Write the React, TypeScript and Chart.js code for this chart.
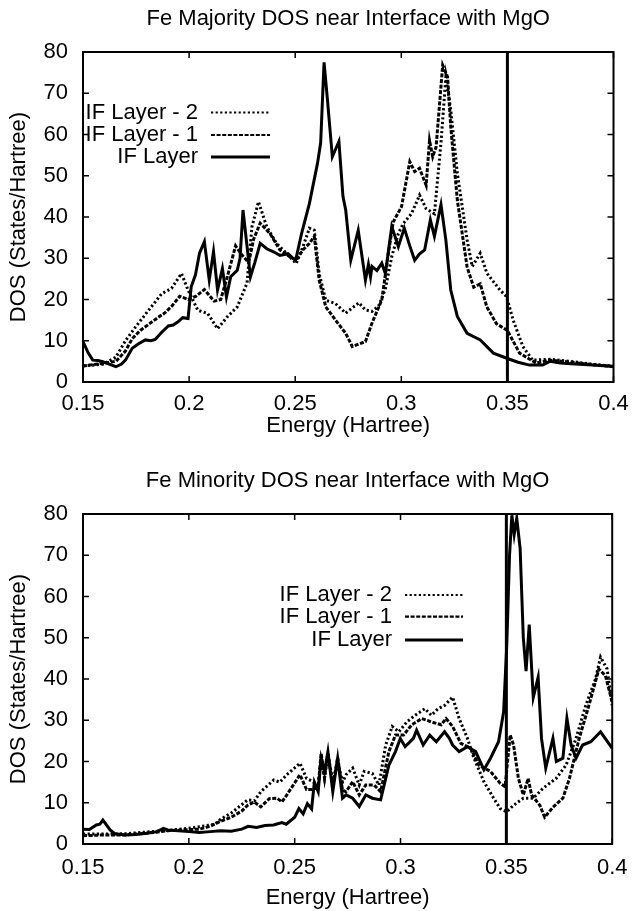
import React, { useEffect, useRef } from "react";
import { Chart, registerables } from "chart.js";

Chart.register(...registerables);

// ---------------- data ----------------
const xTickLabels = ["0.15", "0.2", "0.25", "0.3", "0.35", "0.4"];
const seriesLabels = ["IF Layer - 2", "IF Layer - 1", "IF Layer"];
const markerEnergy = 0.35;
const majorityTitle = "Fe Majority DOS near Interface with MgO";
const minorityTitle = "Fe Minority DOS near Interface with MgO";
const xAxisTitle = "Energy (Hartree)";
const yAxisTitle = "DOS (States/Hartree)";

// Majority: [energy, DOS]
const majorityIF: [number, number][] = [
  [0.150, 9.8], [0.1525, 7], [0.1546, 5.3], [0.157, 5.2], [0.1593, 4.9], [0.162, 4.4], [0.1655, 3.7],
  [0.168, 4.3], [0.170, 5.3], [0.1732, 8.2], [0.176, 9.2], [0.1794, 10.2], [0.182, 10.0], [0.184, 10.3],
  [0.187, 12], [0.1902, 13.6], [0.1925, 13.8], [0.1948, 14.6], [0.197, 15.6], [0.1995, 15.4], [0.201, 23.1],
  [0.203, 26], [0.2049, 31.2], [0.2072, 34], [0.2095, 24.7], [0.2115, 31.6], [0.2134, 22.3], [0.2157, 27.5],
  [0.2176, 20.6], [0.2196, 25.5], [0.2227, 27.1], [0.224, 30], [0.2254, 41.7], [0.2289, 25.5], [0.231, 29],
  [0.2335, 33.6], [0.2366, 32.3], [0.24, 31.5], [0.2428, 30.7], [0.2466, 31.1], [0.2485, 30.2], [0.2502, 29.5],
  [0.253, 36], [0.2567, 43.3], [0.2605, 53], [0.262, 58], [0.2636, 77.5], [0.2652, 68.4], [0.2675, 54.6],
  [0.2706, 58.3], [0.2725, 45], [0.2738, 41.7], [0.2762, 29.5], [0.2797, 36.8], [0.2831, 24.7], [0.2845, 28.5],
  [0.2855, 25.5], [0.2862, 28], [0.2885, 27], [0.2908, 28.8], [0.2925, 26.3], [0.2955, 37.7], [0.2986, 32.8],
  [0.3014, 37.3], [0.304, 33], [0.3063, 29.5], [0.3085, 31], [0.311, 32], [0.3137, 39.3], [0.3156, 35.3],
  [0.3187, 43], [0.321, 34.4], [0.3233, 22.3], [0.3264, 15.9], [0.331, 11.8], [0.3372, 10.2], [0.3434, 7],
  [0.35, 5.7], [0.355, 4.8], [0.3604, 4.1], [0.3666, 4.1], [0.37, 5.0], [0.375, 4.6], [0.38, 4.4],
  [0.39, 4.1], [0.4, 3.8],
];
const majorityIF1: [number, number][] = [
  [0.150, 3.9], [0.1562, 4.3], [0.1655, 5], [0.170, 7.5], [0.1732, 10.5], [0.177, 12.5], [0.181, 14],
  [0.185, 15.5], [0.1887, 16.8], [0.192, 18.5], [0.1956, 20.8], [0.1995, 20], [0.2033, 20.8], [0.2072, 22.4],
  [0.2095, 21], [0.2118, 19.6], [0.2149, 20], [0.218, 25.5], [0.2219, 33], [0.225, 30.7], [0.2281, 29],
  [0.2304, 34.6], [0.2335, 38.5], [0.2381, 36], [0.2428, 32], [0.2474, 30.4], [0.2505, 29.5], [0.2536, 32],
  [0.2567, 33.6], [0.259, 35.3], [0.2613, 24.7], [0.2644, 18.2], [0.269, 15], [0.2738, 11.8], [0.2769, 8.6],
  [0.280, 9.2], [0.2831, 9.8], [0.2862, 14.3], [0.2908, 19.9], [0.2939, 31.2], [0.2962, 38.8], [0.3001, 42.5],
  [0.304, 53.4], [0.3063, 51], [0.3086, 51.8], [0.3117, 47.7], [0.3133, 58.6], [0.3148, 54.6], [0.3164, 57],
  [0.3195, 76.8], [0.3218, 74], [0.3233, 61.9], [0.3264, 44.1], [0.331, 27.9], [0.3341, 23], [0.3372, 23.8],
  [0.3403, 18.2], [0.3449, 14.1], [0.35, 12.5], [0.3557, 7], [0.3635, 4.6], [0.37, 5.3], [0.38, 4.8],
  [0.39, 4.2], [0.4, 3.7],
];
const majorityIF2: [number, number][] = [
  [0.150, 3.9], [0.1593, 4.3], [0.1655, 6], [0.170, 10], [0.1747, 13.3], [0.1809, 17.4], [0.1871, 21.4],
  [0.1917, 22.7], [0.1964, 26.3], [0.1995, 22.3], [0.2041, 17.4], [0.2088, 16.6], [0.2134, 12.9], [0.218, 15.8],
  [0.2227, 18.2], [0.2273, 24], [0.2296, 37.6], [0.2327, 43.7], [0.2366, 37.6], [0.2412, 33.6], [0.2459, 31.2],
  [0.2505, 28.7], [0.2536, 32.7], [0.2567, 37.3], [0.259, 36.8], [0.2613, 26.3], [0.2644, 19.8], [0.269, 19],
  [0.2738, 16.7], [0.277, 18], [0.28, 19.2], [0.283, 17.5], [0.2862, 17.1], [0.2893, 18.4], [0.2924, 22.4],
  [0.2955, 30.4], [0.2986, 36], [0.3009, 38.4], [0.3048, 40.8], [0.3086, 45.3], [0.3117, 42], [0.3156, 40.8],
  [0.3187, 58], [0.321, 74], [0.3233, 66], [0.3264, 50.6], [0.331, 34.5], [0.3334, 28], [0.3372, 31.2],
  [0.3403, 26.4], [0.3465, 22.3], [0.3496, 20.7], [0.3527, 15], [0.3573, 8.6], [0.3619, 5.3], [0.37, 5.5],
  [0.38, 5], [0.39, 4.3], [0.4, 3.8],
];

// Minority: [energy, DOS]
const minorityIF: [number, number][] = [
  [0.150, 3.6], [0.153, 3.5], [0.1563, 4.6], [0.158, 4.8], [0.1594, 5.8], [0.1628, 3.4], [0.165, 2.5],
  [0.170, 2.2], [0.175, 2.3], [0.180, 2.6], [0.185, 3], [0.188, 3.8], [0.190, 3.4], [0.195, 3.2], [0.200, 3],
  [0.205, 2.8], [0.210, 3], [0.215, 3.2], [0.220, 3.1], [0.225, 3.6], [0.228, 4.3], [0.232, 4.0], [0.236, 4.5],
  [0.240, 4.6], [0.244, 5.2], [0.246, 4.8], [0.250, 6.5], [0.252, 8.6], [0.254, 7.3], [0.256, 9.8], [0.258, 8.5],
  [0.2593, 15], [0.2611, 12.7], [0.2625, 20.8], [0.2641, 17.6], [0.2657, 22.4], [0.268, 12.7], [0.2703, 20.8],
  [0.2726, 11.1], [0.2743, 11.9], [0.2774, 11.1], [0.2805, 9.1], [0.2836, 11.9], [0.2867, 11.1], [0.2906, 10.7],
  [0.2945, 19.1], [0.2976, 22.4], [0.2999, 25.6], [0.3022, 23.6], [0.3061, 25.6], [0.3076, 27.6], [0.3107, 24],
  [0.3138, 26.4], [0.3169, 24.8], [0.3208, 27.2], [0.3231, 25.6], [0.3246, 24], [0.3277, 22.4], [0.3316, 23.6],
  [0.3355, 22.4], [0.3394, 18], [0.3425, 20.8], [0.3463, 24.8], [0.3487, 32], [0.3502, 48.3], [0.3515, 70],
  [0.3526, 79.7], [0.3537, 75], [0.3549, 79], [0.3565, 71.7], [0.358, 50], [0.3593, 41.9], [0.3608, 53.2],
  [0.3627, 35.5], [0.365, 40.4], [0.3666, 25.6], [0.3686, 18.4], [0.372, 25.6], [0.3736, 20], [0.3767, 20.8],
  [0.3786, 30.5], [0.3806, 24], [0.3829, 20.8], [0.386, 24], [0.3899, 24.8], [0.3945, 27.2], [0.4, 23.2],
];
const minorityIF1: [number, number][] = [
  [0.150, 2.0], [0.160, 2.2], [0.170, 2.2], [0.180, 2.6], [0.190, 3.2], [0.200, 3.5], [0.205, 3.6],
  [0.210, 4.3], [0.215, 5.5], [0.220, 6.5], [0.225, 8], [0.2278, 9.4], [0.2309, 10.2], [0.234, 9], [0.238, 11],
  [0.2417, 11.1], [0.244, 10.2], [0.2463, 11.9], [0.2525, 16.8], [0.2556, 13.2], [0.2587, 13.2], [0.2611, 14],
  [0.2625, 22], [0.2641, 16], [0.2657, 22], [0.268, 14], [0.2703, 21], [0.2726, 13], [0.2743, 12.7],
  [0.2774, 15.1], [0.2805, 11.9], [0.2836, 14.3], [0.2875, 14.3], [0.2906, 12.7], [0.2945, 22.4], [0.2976, 26.4],
  [0.3014, 26.4], [0.3053, 28.9], [0.31, 30.4], [0.3146, 29.6], [0.3192, 28.9], [0.3215, 30.4], [0.3246, 28.5],
  [0.3285, 24.4], [0.3332, 23.2], [0.337, 19.1], [0.3425, 17.6], [0.3471, 14.7], [0.3494, 13.9], [0.3518, 26.4],
  [0.3534, 24], [0.3557, 15.9], [0.358, 11.9], [0.3603, 15.9], [0.3619, 11.9], [0.3658, 9.4], [0.3681, 6.5],
  [0.372, 8.9], [0.3767, 11.1], [0.3798, 15.9], [0.3844, 25.6], [0.389, 33.6], [0.3937, 42.4], [0.3968, 40.8],
  [0.4, 34.4],
];
const minorityIF2: [number, number][] = [
  [0.150, 2.4], [0.160, 2.4], [0.170, 2.5], [0.180, 2.9], [0.190, 3.3], [0.200, 3.8], [0.205, 4.2],
  [0.2123, 4.8], [0.215, 6], [0.220, 7.5], [0.2278, 10.7], [0.231, 10.5], [0.234, 12.7], [0.2401, 15.5],
  [0.243, 15], [0.2463, 16.8], [0.2525, 19.6], [0.2556, 15.9], [0.2587, 15.1], [0.2611, 14], [0.2625, 21],
  [0.2641, 16], [0.2657, 22], [0.268, 15], [0.2703, 20], [0.2726, 15], [0.2743, 16.8], [0.2774, 18.4],
  [0.2805, 14.3], [0.2828, 17.6], [0.2867, 17.1], [0.2898, 14.3], [0.293, 24], [0.2961, 28.5], [0.2992, 27.2],
  [0.303, 29.6], [0.3069, 31.2], [0.3115, 32.8], [0.3146, 31.2], [0.3177, 32.8], [0.3208, 33.6], [0.3246, 35.6],
  [0.3277, 30.4], [0.3316, 25.6], [0.3347, 20.8], [0.3394, 15.1], [0.344, 11.1], [0.3471, 8.6], [0.3502, 7.8],
  [0.3534, 9.4], [0.358, 11.1], [0.3627, 11.1], [0.3673, 13.5], [0.3735, 15.9], [0.3782, 19.1], [0.3829, 25.6],
  [0.3875, 33.6], [0.3921, 40], [0.3945, 45.3], [0.3976, 42.4], [0.4, 33.6],
];

// ---------------- styling helpers ----------------
const FONT_FAMILY = "'Liberation Sans', Arial, Helvetica, sans-serif";
const FONT_SIZE = 22;
const dashes: number[][] = [[2.2, 2.4], [4, 1.6], []];
const lineWidths = [3, 3, 3];
const legendWidths = [2.2, 2.2, 3];

const framePlugin = {
  id: "dosFrame",
  afterDatasetsDraw(chart: any) {
    const { ctx, chartArea: a, scales } = chart;
    ctx.save();
    ctx.strokeStyle = "#000";
    ctx.setLineDash([]);
    ctx.lineWidth = 2;
    ctx.strokeRect(a.left, a.top, a.right - a.left, a.bottom - a.top);
    ctx.lineWidth = 1.5;
    const L = 6;
    ctx.beginPath();
    scales.x.ticks.forEach((t: any) => {
      const px = scales.x.getPixelForValue(t.value);
      ctx.moveTo(px, a.bottom);
      ctx.lineTo(px, a.bottom - L);
      ctx.moveTo(px, a.top);
      ctx.lineTo(px, a.top + L);
    });
    scales.y.ticks.forEach((t: any) => {
      const py = scales.y.getPixelForValue(t.value);
      ctx.moveTo(a.left, py);
      ctx.lineTo(a.left + L, py);
      ctx.moveTo(a.right, py);
      ctx.lineTo(a.right - L, py);
    });
    ctx.stroke();
    ctx.restore();
  },
};

// Title centred over the plotting area (as in the reference)
const titlePlugin = {
  id: "dosTitle",
  afterDraw(chart: any, _args: any, opts: any) {
    const { ctx, chartArea: a } = chart;
    ctx.save();
    ctx.font = `${FONT_SIZE}px ${FONT_FAMILY}`;
    ctx.fillStyle = "#000";
    ctx.textAlign = "center";
    ctx.textBaseline = "middle";
    ctx.fillText(opts.text, (a.left + a.right) / 2, opts.y);
    ctx.restore();
  },
};

const legendPlugin = {
  id: "dosLegend",
  afterDatasetsDraw(chart: any, _args: any, opts: any) {
    const ctx = chart.ctx;
    ctx.save();
    ctx.font = `${FONT_SIZE}px ${FONT_FAMILY}`;
    ctx.fillStyle = "#000";
    ctx.strokeStyle = "#000";
    ctx.textAlign = "right";
    ctx.textBaseline = "middle";
    (opts.rows as number[]).forEach((y, i) => {
      const ds = chart.data.datasets[i];
      ctx.fillText(ds.label, opts.textRight, y);
      ctx.beginPath();
      ctx.setLineDash(dashes[i]);
      ctx.lineWidth = legendWidths[i];
      ctx.moveTo(opts.sampleLeft, y);
      ctx.lineTo(opts.sampleRight, y);
      ctx.stroke();
    });
    ctx.restore();
  },
};

type Pair = [number, number];

interface DosChartProps {
  title: string;
  series: Pair[][];
  width: number;
  height: number;
  xAxisHeight: number;
  xTickPad: number;
  xTitlePadBottom: number;
  legend: { rows: number[]; textRight: number; sampleLeft: number; sampleRight: number };
  top: number;
}

function DosChart(props: DosChartProps) {
  const ref = useRef<HTMLCanvasElement | null>(null);
  useEffect(() => {
    if (!ref.current) return;
    const font = { family: FONT_FAMILY, size: FONT_SIZE, weight: "normal" as const, lineHeight: 1.2 };
    const datasets: any[] = props.series.map((s, i) => ({
      label: seriesLabels[i],
      data: s.map(([x, y]) => ({ x, y })),
      borderColor: "#000",
      borderWidth: lineWidths[i],
      borderDash: dashes[i],
      pointRadius: 0,
      tension: 0,
      fill: false,
    }));
    datasets.push({
      label: "marker",
      data: [
        { x: markerEnergy, y: 0 },
        { x: markerEnergy, y: 80 },
      ],
      borderColor: "#000",
      borderWidth: 3,
      pointRadius: 0,
      fill: false,
    });
    const chart = new Chart(ref.current, {
      type: "line",
      data: { datasets },
      plugins: [framePlugin, legendPlugin, titlePlugin],
      options: {
        responsive: false,
        animation: false,
        layout: { padding: { left: 0, right: 16, top: 52, bottom: 0 } },
        plugins: {
          legend: { display: false },
          tooltip: { enabled: false },
          title: { display: false },
          dosLegend: props.legend,
          dosTitle: { text: props.title, y: 18.7 },
        } as any,
        scales: {
          x: {
            type: "linear",
            min: 0.15,
            max: 0.4,
            grid: { display: false, drawTicks: false },
            border: { display: false },
            ticks: {
              stepSize: 0.05,
              padding: props.xTickPad,
              color: "#000",
              font,
              maxRotation: 0,
              callback: (_v: any, i: number) => xTickLabels[i] ?? "",
            },
            title: {
              display: true,
              text: xAxisTitle,
              color: "#000",
              font,
              padding: { top: 0, bottom: props.xTitlePadBottom },
            },
            afterFit: (s: any) => {
              s.height = props.xAxisHeight;
            },
          },
          y: {
            type: "linear",
            min: 0,
            max: 80,
            grid: { display: false, drawTicks: false },
            border: { display: false },
            ticks: { stepSize: 10, padding: 15, color: "#000", font },
            title: {
              display: true,
              text: yAxisTitle,
              color: "#000",
              font,
              padding: { top: 5.5, bottom: 0 },
            },
            afterFit: (s: any) => {
              s.width = 83;
            },
          },
        },
      } as any,
    });
    return () => chart.destroy();
  }, []);
  return (
    <canvas
      ref={ref}
      width={props.width}
      height={props.height}
      style={{ position: "absolute", left: 0, top: props.top, width: props.width, height: props.height, display: "block" }}
    />
  );
}

export default function App() {
  return (
    <div style={{ position: "absolute", left: 0, top: 0, width: 638, height: 911, background: "#fff" }}>
      <DosChart
        title={majorityTitle}
        series={[majorityIF2, majorityIF1, majorityIF]}
        width={638}
        height={462}
        top={0}
        xAxisHeight={80}
        xTickPad={9.2}
        xTitlePadBottom={23}
        legend={{ rows: [112.5, 135, 157], textRight: 198, sampleLeft: 211, sampleRight: 270 }}
      />
      <DosChart
        title={minorityTitle}
        series={[minorityIF2, minorityIF1, minorityIF]}
        width={638}
        height={449}
        top={462}
        xAxisHeight={67}
        xTickPad={10.5}
        xTitlePadBottom={0}
        legend={{ rows: [133, 154.7, 178], textRight: 392, sampleLeft: 405, sampleRight: 463 }}
      />
    </div>
  );
}
